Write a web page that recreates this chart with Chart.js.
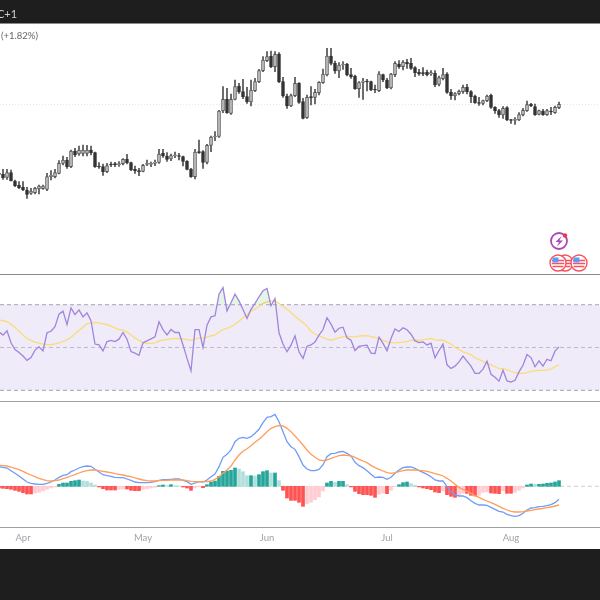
<!DOCTYPE html>
<html><head><meta charset="utf-8">
<style>
html,body{margin:0;padding:0;width:600px;height:600px;background:#1e1e1e;overflow:hidden;font-family:Lato,sans-serif}
#white{position:absolute;left:0;top:24px;width:600px;height:525px;background:#fff}
canvas{position:absolute;left:0;top:0;filter:blur(.35px)}
.pane{position:absolute;left:0;width:600px}
.sep{position:absolute;left:0;width:600px;height:1px;background:#8a8a8a}
.t{position:absolute;white-space:nowrap;filter:blur(.25px)}
svg{position:absolute;left:0;top:0;filter:blur(.3px)}
</style></head><body>
<div id="white"></div>
<div class="pane" style="top:24px;height:250px"><canvas id="c1" width="600" height="250"></canvas></div>
<div class="pane" style="top:275px;height:125px"><canvas id="c2" width="600" height="125"></canvas></div>
<div class="pane" style="top:402px;height:147px"><canvas id="c3" width="600" height="147"></canvas></div>
<div class="sep" style="top:23px"></div>
<div class="sep" style="top:274px"></div>
<div class="sep" style="top:401px;background:#a0a0a0"></div>
<div class="sep" style="top:527px;background:#a0a0a0"></div>
<div class="t" style="left:-3px;top:7px;font-size:11px;color:#cfcfcf;font-family:Lato,sans-serif">C+1</div>
<div class="t" style="left:1px;top:30px;font-size:9.5px;color:#666;font-family:Lato,sans-serif">(+1.82%)</div>
<svg width="600" height="600" viewBox="0 0 600 600">
  <defs>
    <g id="flag">
      <circle r="8" fill="#fff" stroke="#f7525f" stroke-width="1.4"/>
      <path d="M-6 -2.5H6M-6.2 0.5H6.2M-5.5 3.5H5.5" stroke="#f7525f" stroke-width="1.5"/>
      <rect x="-5.5" y="-5.5" width="6" height="5" fill="#5b9cf6"/>
    </g>
  </defs>
  <circle cx="559" cy="241" r="8" fill="#fff" stroke="#ab47bc" stroke-width="1.8"/>
  <path d="M561.5 236 L555.5 242 L559 242 L557 246.5 L563 240.5 L559.5 240.5 Z" fill="#ab47bc"/>
  <circle cx="565" cy="235.5" r="2.2" fill="#f23645"/>
  <use href="#flag" x="565" y="263"/>
  <use href="#flag" x="558" y="263"/>
  <use href="#flag" x="579" y="263"/>
</svg>
<script src="https://cdn.jsdelivr.net/npm/chart.js@4"></script>
<script>
const firstDay = -6;
const monthTicks = [0, 30, 61, 91, 122];
const monthLabels = ['Apr','May','Jun','Jul','Aug'];
const openVals = [480,477,468,482,457,444,438,430,420,422,433,434,432,470,470,480,510,520,500,547,538,540,540,550,542,502,500,485,508,509,506,509,522,512,492,488,486,507,507,510,513,540,532,523,532,533,530,516,493,470,545,545,513,564,589,591,667,702,660,702,742,725,710,694,728,755,788,818,832,800,838,755,712,682,713,750,695,647,710,708,722,752,775,832,810,787,805,808,776,772,734,753,757,755,732,728,776,760,736,776,808,800,813,810,797,783,782,783,778,780,747,764,778,723,712,719,725,738,725,712,692,690,698,714,678,668,655,677,641,639,640,655,668,687,680,657,667,656,667,662,677];
const highVals = [495,492,492,490,460,455,455,438,435,438,445,445,480,488,492,518,532,528,550,555,562,565,564,562,544,512,508,510,514,513,515,524,537,514,502,495,507,520,514,520,552,552,542,538,544,540,532,518,495,552,580,548,567,592,605,669,740,735,718,760,750,762,738,760,765,792,830,845,847,845,842,768,718,718,768,752,705,715,740,732,755,793,855,855,817,812,815,810,795,775,755,765,762,757,745,785,778,765,780,815,818,818,822,825,800,792,797,790,788,788,772,795,782,732,722,730,745,747,728,715,708,700,715,718,680,672,680,680,642,647,662,675,697,690,688,670,672,672,678,682,694];
const lowVals = [470,462,462,457,440,434,428,405,417,418,418,432,428,460,466,478,505,495,497,530,534,532,532,535,498,495,474,482,500,500,501,505,508,488,480,473,484,503,500,503,510,528,516,518,527,520,502,490,468,463,540,495,508,545,578,588,662,660,657,700,720,704,690,682,725,752,785,815,797,785,752,708,675,680,710,690,643,645,685,688,715,750,772,805,780,767,792,772,765,732,708,702,727,728,722,725,755,734,733,770,795,790,795,792,770,774,773,772,774,740,742,760,720,702,700,715,720,718,692,690,684,685,695,675,660,648,645,638,630,627,638,652,666,680,654,655,654,654,656,660,674];
const closeVals = [477,467,482,457,443,437,431,417,427,435,442,442,470,475,482,510,520,500,547,535,550,550,550,542,500,499,485,503,505,506,509,522,512,490,487,485,504,510,510,514,538,532,522,533,535,531,516,492,470,544,542,513,564,589,592,667,702,662,702,740,724,710,694,730,755,788,820,830,800,837,755,712,682,713,750,693,645,708,707,723,753,778,832,810,787,805,808,775,770,734,752,757,754,730,730,778,760,736,778,810,800,814,808,795,782,778,778,776,782,745,767,776,723,713,719,726,738,725,710,692,690,698,712,678,668,655,675,640,639,642,656,669,686,682,656,668,656,668,664,678,687];
const priceLine = 687;
const rsiVals = [57.3,55.8,57.8,52.2,49,47.7,46,44,45.3,48.8,50.3,48.4,56.9,57.6,59.7,65.6,67,60.7,68.5,65.4,67.6,64.3,66.2,62.5,51.6,51.2,48.4,52.8,53.3,52.8,53.9,57,53.9,48.1,47.4,46.4,52.2,53.1,54,55,62,58.4,55.9,58.4,57,57,51.2,44.9,39.1,58.4,58.4,50,60.4,64.3,64.8,74.9,78,67.1,70.9,74.9,71.8,67.8,63.6,67.8,70.6,73.7,76.5,77.6,69.5,72.9,56.9,51.6,48,51.1,55.5,48,44.9,50.6,51.2,52.6,55.8,58.4,63.9,60.9,57.2,59,59.5,54.5,53.4,48.6,50.5,50.9,51.1,47.4,47.2,54.8,51.9,48.4,54.2,58.7,57.5,59.2,58.3,56.2,53.1,52.3,52.6,51.2,52,45.2,48.6,51.6,41.9,40.2,41.3,43.3,46,43.6,41.3,37.9,37.9,39.9,43.6,37.5,36.1,34.3,39.4,34.4,33.8,34.7,38.6,41.7,46.7,45.3,41,43.8,41.3,44.5,43.8,48.3,50.3];
const rsiMaVals = [62.8,62.5,62.1,60.9,59.3,57.6,55.8,54.2,53.3,52.5,52,51.6,51.4,51.3,51.7,52.2,52.8,53.6,54.8,56.4,57.9,59.5,61.1,61.5,61.7,61.5,61.1,60.7,60,59.2,58.4,58.1,57.2,55.8,54.5,53.3,52.3,51.9,51.9,52.2,53,53.4,53.7,54,54.2,54.2,54,53.7,53.3,54,54.4,54.5,54.8,55.5,55.8,57.2,58.4,58.9,59.7,60.9,62.3,63.9,65.4,67,67.9,69.3,70.6,71.3,71.8,71.8,70.6,69.3,67.9,66.4,64.6,63.1,61.7,60,57.6,56.2,55.5,54.7,53.9,53.4,53.9,54.5,55.1,55.3,55,55,55.3,55.5,55.5,55.1,54.7,54.2,53.4,52.6,52.3,52.3,52.3,52.5,52.8,53.3,53.4,53.4,53.6,53.9,54.2,53.6,53.4,53.4,52.5,51.6,50,49.1,48,47.4,46.6,45.3,44.4,43.5,42.7,41.9,41,40.2,40,39.7,38.9,38.3,37.9,37.9,38.3,38.8,39.1,39.3,39.3,39.4,40,41,42];
const rsiBands = [70, 50, 30];
const macdVals = [59,57,55,47,39,31,22,13,9,7,6,6,9,13,19,27,33,35,44,49,55,59,61,60,51,43,35,32,30,27,26,26,22,18,13,11,11,11,12,14,18,20,20,21,22,22,18,14,6,10,14,13,19,29,37,59,87,96,109,134,144,147,144,149,159,171,191,207,209,216,194,164,134,119,111,89,64,52,47,47,51,64,89,98,99,103,105,99,91,72,62,56,47,36,26,28,27,21,27,39,49,56,58,58,54,47,42,36,29,19,16,16,-1,-16,-26,-29,-29,-34,-43,-51,-56,-56,-57,-63,-69,-75,-77,-84,-88,-90,-88,-81,-71,-65,-64,-61,-60,-58,-55,-49,-39];
const signalVals = [63,62,61,58,54,50,45,39,34,29,24,20,17,16,17,19,23,27,31,35,40,44,47,49,49,47,45,43,41,38,36,34,31,29,25,22,19,17,16,16,17,18,18,19,19,19,19,17,15,14,14,14,14,16,21,29,39,49,61,79,94,105,113,122,132,141,152,164,174,179,182,181,174,164,151,138,124,109,96,87,79,77,79,84,88,92,94,93,91,87,81,76,71,63,56,51,46,41,39,41,44,47,49,49,49,48,47,45,42,38,35,31,24,16,6,-3,-9,-15,-21,-28,-33,-39,-44,-49,-54,-60,-66,-71,-75,-77,-77,-76,-74,-72,-70,-68,-66,-64,-62,-59,-56];
const histVals = [-5,-6,-7,-9,-12,-15,-19,-23,-23,-20,-18,-14,-9,-5,-2,6,10,10,15,17,19,16,15,10,4,-2,-7,-11,-11,-11,-9,-8,-8,-12,-13,-13,-9,-7,-5,-3,2,4,2,5,2,1,-2,-5,-12,-5,-1,-4,5,13,16,30,45,46,48,55,52,44,32,32,31,35,44,47,40,40,17,-12,-35,-42,-42,-48,-60,-52,-48,-40,-32,-14,10,15,12,15,15,5,-2,-15,-22,-25,-25,-27,-33,-24,-20,-22,-12,-1,5,11,13,8,3,-2,-5,-7,-10,-17,-19,-14,-25,-30,-33,-26,-21,-21,-27,-29,-27,-18,-16,-20,-21,-22,-13,-21,-21,-18,-12,-5,4,7,6,6,7,9,10,13,17];

const xMin = -5.75, xMax = 144.25;
const days = closeVals.map((_, i) => firstDay + i);
const series = vals => vals.map((y, i) => ({x: days[i], y}));
const flat = y => [{x: xMin, y}, {x: xMax, y}];
const hiddenX = {type: 'linear', min: xMin, max: xMax, display: false, offset: false};
const base = {responsive: false, animation: false, events: [],
  layout: {padding: 0}, plugins: {legend: {display: false}, tooltip: {enabled: false}}};
const line = (data, color, width, extra) => Object.assign({type: 'line', data, borderColor: color,
  borderWidth: width, pointRadius: 0, tension: 0, fill: false}, extra);

new Chart(document.getElementById('c1'), {
  data: {datasets: [
    {type: 'bar', order: 1, grouped: false, barThickness: 3,
     data: days.map((x, i) => ({x, y: [openVals[i], closeVals[i]]})),
     backgroundColor: closeVals.map((c, i) => c >= openVals[i] ? '#c8c8c8' : '#333333'),
     borderColor: closeVals.map((c, i) => c >= openVals[i] ? '#555555' : '#333333'),
     borderWidth: 1, borderSkipped: false},
    {type: 'bar', order: 2, grouped: false, barThickness: 0.9,
     data: days.map((x, i) => ({x, y: [lowVals[i], highVals[i]]})),
     backgroundColor: '#444444'},
    line(flat(priceLine), '#e4e4e4', 1, {order: 3, borderDash: [1, 2]})
  ]},
  options: Object.assign({}, base, {scales: {x: hiddenX, y: {min: 178, max: 928, display: false}}})
});

new Chart(document.getElementById('c2'), {
  data: {datasets: [
    line(series(rsiVals), '#a085dd', 1.3, {order: 1, fill: {target: {value: 70}, above: 'rgba(76,175,80,0.14)', below: 'rgba(0,0,0,0)'}}),
    line(series(rsiMaVals), '#fbdc77', 1.3, {order: 2}),
    line(flat(rsiBands[0]), '#a8a8b0', 1, {order: 3, borderDash: [4, 3], fill: {target: {value: rsiBands[2]}, above: 'rgba(126,87,194,0.12)'}}),
    line(flat(rsiBands[1]), '#cbc7d2', 1, {order: 3, borderDash: [4, 3]}),
    line(flat(rsiBands[2]), '#a8a8b0', 1, {order: 3, borderDash: [4, 3]})
  ]},
  options: Object.assign({}, base, {scales: {x: hiddenX, y: {min: 25.47, max: 83.88, display: false}}})
});

const histColor = histVals.map((v, i) => {
  const prev = i ? histVals[i - 1] : v;
  if (v >= 0) return v >= prev ? '#26a69a' : '#b2dfdb';
  return v <= prev ? '#ff5252' : '#ffcdd2';
});
new Chart(document.getElementById('c3'), {
  data: {datasets: [
    line(series(macdVals), '#6f9cf6', 1.3, {order: 1}),
    line(series(signalVals), '#ff9d5a', 1.3, {order: 0}),
    {type: 'bar', order: 2, barThickness: 3, data: series(histVals), backgroundColor: histColor},
    line(flat(0), '#cfcfcf', 1, {order: 3, borderDash: [4, 3]})
  ]},
  options: Object.assign({}, base, {scales: {
    x: {type: 'linear', min: xMin, max: xMax, offset: false, border: {display: false},
        grid: {display: false, drawTicks: false},
        afterBuildTicks: s => { s.ticks = monthTicks.map(value => ({value})); },
        afterFit: s => { s.height = 22; },
        ticks: {autoSkip: false, maxRotation: 0, padding: 5, color: '#a2a2aa',
                font: {family: 'Lato', size: 9.5, weight: 'normal'},
                callback: v => monthLabels[monthTicks.indexOf(v)] || ''}},
    y: {min: -122, max: 253, display: false}
  }})
});
</script>
</body></html>
